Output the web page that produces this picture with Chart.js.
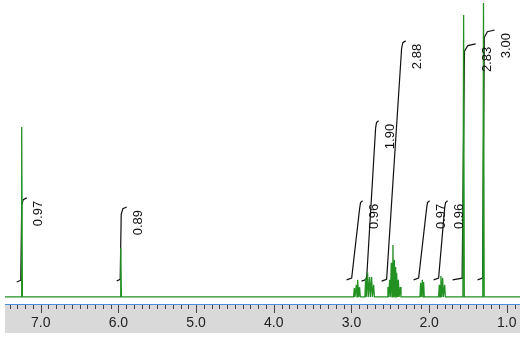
<!DOCTYPE html>
<html lang="en">
<head>
    <meta charset="UTF-8">
    <title>1H NMR</title>
    <script src="https://cdn.jsdelivr.net/npm/chart.js"></script>
    <style>
        html, body {
            margin: 0;
            padding: 0;
            background: #ffffff;
        }
        #wrap {
            width: 529px;
            height: 340px;
        }
    </style>
</head>
<body>
<div id="wrap">
    <canvas id="nmr" width="529" height="340"></canvas>
</div>

<script>
    // chemical shift window (ppm), left edge -> right edge
    const ppmLeft = 7.46;
    const ppmRight = 0.83;

    // spectrum lines: shift (ppm) and intensity (tallest = 100)
    const peakPpm = [7.245, 5.970,
        2.963, 2.937, 2.916, 2.895,
        2.817, 2.792, 2.766, 2.740, 2.714,
        2.530, 2.508, 2.487, 2.466, 2.448, 2.431, 2.414, 2.396, 2.371,
        2.109, 2.087, 2.071,
        1.869, 1.848, 1.826, 1.800,
        1.556, 1.300];
    const peakHeight = [57.8, 16.7,
        3.0, 4.1, 5.8, 3.4,
        6.5, 8.2, 6.8, 6.8, 4.1,
        3.4, 5.8, 11.6, 17.7, 12.6, 10.2, 8.2, 5.8, 3.4,
        4.8, 5.8, 5.1,
        4.1, 7.1, 6.5, 4.1,
        95.9, 100];

    // integral regions
    const intLabels   = ["0.97", "0.89", "0.96", "1.90", "2.88", "0.97", "0.96", "2.83", "3.00"];
    const intStart    = [7.309, 6.022, 3.062, 2.869, 2.611, 2.199, 1.942, 1.698, 1.376];
    const intRiseFrom = [7.257, 5.977, 2.997, 2.805, 2.547, 2.135, 1.878, 1.575, 1.312];
    const intRiseTo   = [7.245, 5.964, 2.894, 2.689, 2.354, 2.032, 1.800, 1.545, 1.290];
    const intEnd      = [7.180, 5.893, 2.856, 2.650, 2.302, 1.994, 1.762, 1.401, 1.157];
    const intLow      = [5.1, 5.4, 5.8, 5.4, 5.4, 5.8, 5.8, 5.8, 5.8];
    const intHigh     = [33.7, 30.6, 32.7, 59.9, 87.1, 32.7, 32.7, 86.1, 90.8];

    // x-axis labels every 1 ppm
    const tickStep = 1;

    const lineHalfWidth = 0.009;

    // spectrum trace: baseline with a narrow line at each shift
    const spectrum = [{ x: ppmLeft, y: 0 }];
    peakPpm.forEach((p, i) => {
        spectrum.push({ x: p + lineHalfWidth, y: 0 });
        spectrum.push({ x: p, y: peakHeight[i] });
        spectrum.push({ x: p - lineHalfWidth, y: 0 });
    });
    spectrum.push({ x: ppmRight, y: 0 });

    // integral curve: short flat foot, rise, curl to the right at the top
    const integralSets = intLabels.map((lab, i) => ({
        label: "int " + lab,
        data: [
            { x: intStart[i], y: intLow[i] },
            { x: intRiseFrom[i], y: intLow[i] + 0.6 },
            { x: intRiseTo[i], y: intHigh[i] - 2.5 },
            { x: intRiseTo[i] + 0.3 * (intEnd[i] - intRiseTo[i]), y: intHigh[i] - 0.6 },
            { x: intEnd[i], y: intHigh[i] }
        ],
        borderColor: "#111111",
        borderWidth: 1.2,
        pointRadius: 0,
        tension: 0,
        fill: false
    }));

    // grey axis band, blue axis line and tick marks
    const axisBand = {
        id: "axisBand",
        beforeDraw(chart) {
            const { ctx, chartArea, scales } = chart;
            const x = scales.x;
            ctx.save();
            ctx.fillStyle = "#d9d9d9";
            ctx.fillRect(chartArea.left, chartArea.bottom, chartArea.right - chartArea.left, x.bottom - chartArea.bottom);
            ctx.restore();
        },
        afterDraw(chart) {
            const { ctx, chartArea, scales } = chart;
            const x = scales.x;
            const y0 = chartArea.bottom;
            ctx.save();
            ctx.strokeStyle = "#444444";
            ctx.lineWidth = 1;
            for (let k = Math.ceil(ppmRight * 10); k <= Math.floor(ppmLeft * 10); k++) {
                const px = Math.round(x.getPixelForValue(k / 10)) + 0.5;
                const len = (k % 10 === 0) ? 8 : 4;
                ctx.beginPath();
                ctx.moveTo(px, y0 + 1);
                ctx.lineTo(px, y0 + 1 + len);
                ctx.stroke();
            }
            ctx.strokeStyle = "#4a8fe0";
            ctx.beginPath();
            ctx.moveTo(chartArea.left, y0 + 0.5);
            ctx.lineTo(chartArea.right, y0 + 0.5);
            ctx.stroke();
            ctx.restore();
        }
    };

    // rotated integral values
    const integralText = {
        id: "integralText",
        afterDatasetsDraw(chart) {
            const { ctx, scales } = chart;
            ctx.save();
            ctx.fillStyle = "#111111";
            ctx.font = "13px 'Liberation Sans', Arial, sans-serif";
            ctx.textAlign = "right";
            ctx.textBaseline = "middle";
            intLabels.forEach((lab, i) => {
                const px = scales.x.getPixelForValue(intEnd[i]) + 12;
                const py = scales.y.getPixelForValue(intHigh[i]) + 3;
                ctx.save();
                ctx.translate(px, py);
                ctx.rotate(-Math.PI / 2);
                ctx.fillText(lab, 0, 0);
                ctx.restore();
            });
            ctx.restore();
        }
    };

    new Chart(document.getElementById("nmr"), {
        type: "line",
        data: {
            datasets: [{
                label: "spectrum",
                data: spectrum,
                borderColor: "rgb(34,145,34)",
                borderWidth: 1.3,
                pointRadius: 0,
                tension: 0,
                fill: false
            }].concat(integralSets)
        },
        options: {
            responsive: false,
            animation: false,
            layout: { padding: { left: 5, right: 9, top: 0, bottom: 7 } },
            plugins: {
                legend: { display: false },
                tooltip: { enabled: false }
            },
            scales: {
                x: {
                    type: "linear",
                    reverse: true,
                    min: ppmRight,
                    max: ppmLeft,
                    grid: { display: false, drawTicks: false },
                    border: { display: false },
                    ticks: {
                        stepSize: tickStep,
                        includeBounds: false,
                        autoSkip: false,
                        maxRotation: 0,
                        padding: 11,
                        color: "#222222",
                        font: { family: "'Liberation Sans', Arial, sans-serif", size: 14 },
                        callback: v => Math.abs(v - Math.round(v)) < 1e-6 ? v.toFixed(1) : ""
                    },
                    afterFit: s => { s.height = 29; }
                },
                y: {
                    display: false,
                    min: -2.4,
                    max: 101
                }
            }
        },
        plugins: [axisBand, integralText]
    });
</script>
</body>
</html>
